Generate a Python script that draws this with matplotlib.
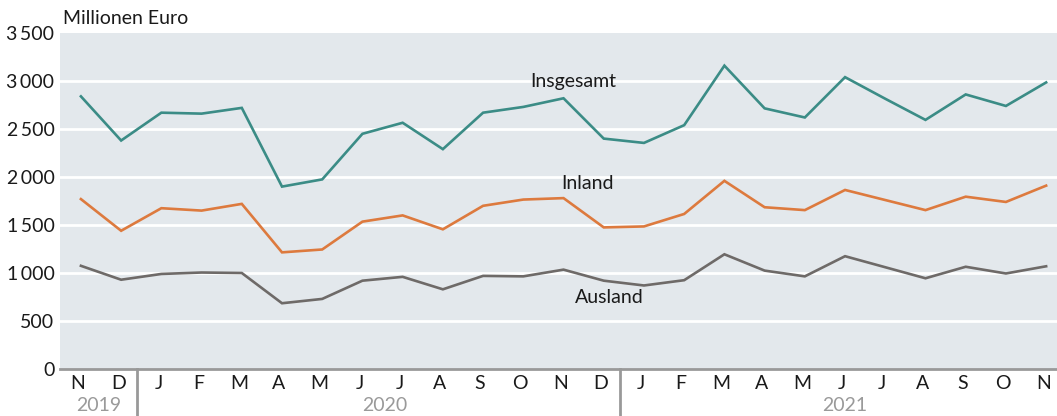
import matplotlib.pyplot as plt
import matplotlib.transforms as mtransforms
import numpy as np

# Monthly values, Nov 2019 - Nov 2021 (Millionen Euro)
months = ['N', 'D', 'J', 'F', 'M', 'A', 'M', 'J', 'J', 'A', 'S', 'O', 'N', 'D',
          'J', 'F', 'M', 'A', 'M', 'J', 'J', 'A', 'S', 'O', 'N']
insgesamt = [2840, 2380, 2670, 2660, 2720, 1900, 1975, 2450, 2565, 2290, 2670, 2730, 2820,
             2400, 2355, 2540, 3160, 2715, 2620, 3040, 2815, 2595, 2860, 2740, 2985]
inland = [1770, 1440, 1675, 1650, 1720, 1215, 1245, 1535, 1600, 1455, 1700, 1765, 1780,
          1475, 1485, 1615, 1960, 1685, 1655, 1865, 1760, 1655, 1795, 1740, 1910]
ausland = [1075, 930, 990, 1005, 1000, 685, 730, 920, 960, 830, 970, 965, 1035,
           920, 870, 925, 1195, 1025, 965, 1175, 1060, 945, 1065, 995, 1070]
years = ['2019', '2020', '2021']
year_centers = [0.45, 7.55, 19.0]
year_breaks = [1.4, 13.4]
yticks = [0, 500, 1000, 1500, 2000, 2500, 3000, 3500]

plt.rcParams['font.family'] = ['Lato', 'DejaVu Sans']

fig = plt.figure(figsize=(10.57, 4.16), dpi=100)
W, H = 1057, 416
ax = fig.add_axes([60 / W, 47 / H, (W - 60) / W, 336 / H])
ax.set_facecolor('#e3e8ec')

x = np.arange(len(months))
ax.plot(x, insgesamt, color='#3b8c86', lw=1.9, solid_joinstyle='miter')
ax.plot(x, inland, color='#dd7a3e', lw=1.9, solid_joinstyle='miter')
ax.plot(x, ausland, color='#6e6a68', lw=1.9, solid_joinstyle='miter')

ax.text(12.23, 2990, 'Insgesamt', fontsize=14, ha='center', va='center', color='#1a1a1a')
ax.text(12.6, 1937, 'Inland', fontsize=14, ha='center', va='center', color='#1a1a1a')
ax.text(13.13, 740, 'Ausland', fontsize=14, ha='center', va='center', color='#1a1a1a')

ax.set_xlim(-0.52, 24.27)
ax.set_ylim(0, 3500)
ax.set_yticks(yticks)
ax.set_yticklabels([f'{v:,}'.replace(',', '\u2009') for v in yticks])
for v in yticks[1:-1]:
    ax.axhline(v, color='white', lw=2, zorder=1)
ax.set_xticks(x)
ax.set_xticklabels(months)
ax.tick_params(axis='both', length=0, labelsize=14, colors='#1a1a1a')
ax.tick_params(axis='y', pad=4)
ax.tick_params(axis='x', pad=4)
# month letters sit a little left of the data points
shift = mtransforms.ScaledTranslation(-3 / 100, 0, fig.dpi_scale_trans)
for lab in ax.get_xticklabels():
    lab.set_transform(lab.get_transform() + shift)

for s in ['top', 'right', 'left']:
    ax.spines[s].set_visible(False)
ax.spines['bottom'].set_color('#999999')
ax.spines['bottom'].set_linewidth(2)

for b in year_breaks:
    ax.plot([b, b], [0, -480], color='#999999', lw=2, clip_on=False)
for yr, c in zip(years, year_centers):
    ax.text(c, -385, yr, fontsize=14, ha='center', va='center', color='#9a9a9a')

fig.text(63 / W, 1 - 18 / H, 'Millionen Euro', fontsize=14, ha='left', va='center', color='#1a1a1a')

fig.savefig('out.png', dpi=100)
